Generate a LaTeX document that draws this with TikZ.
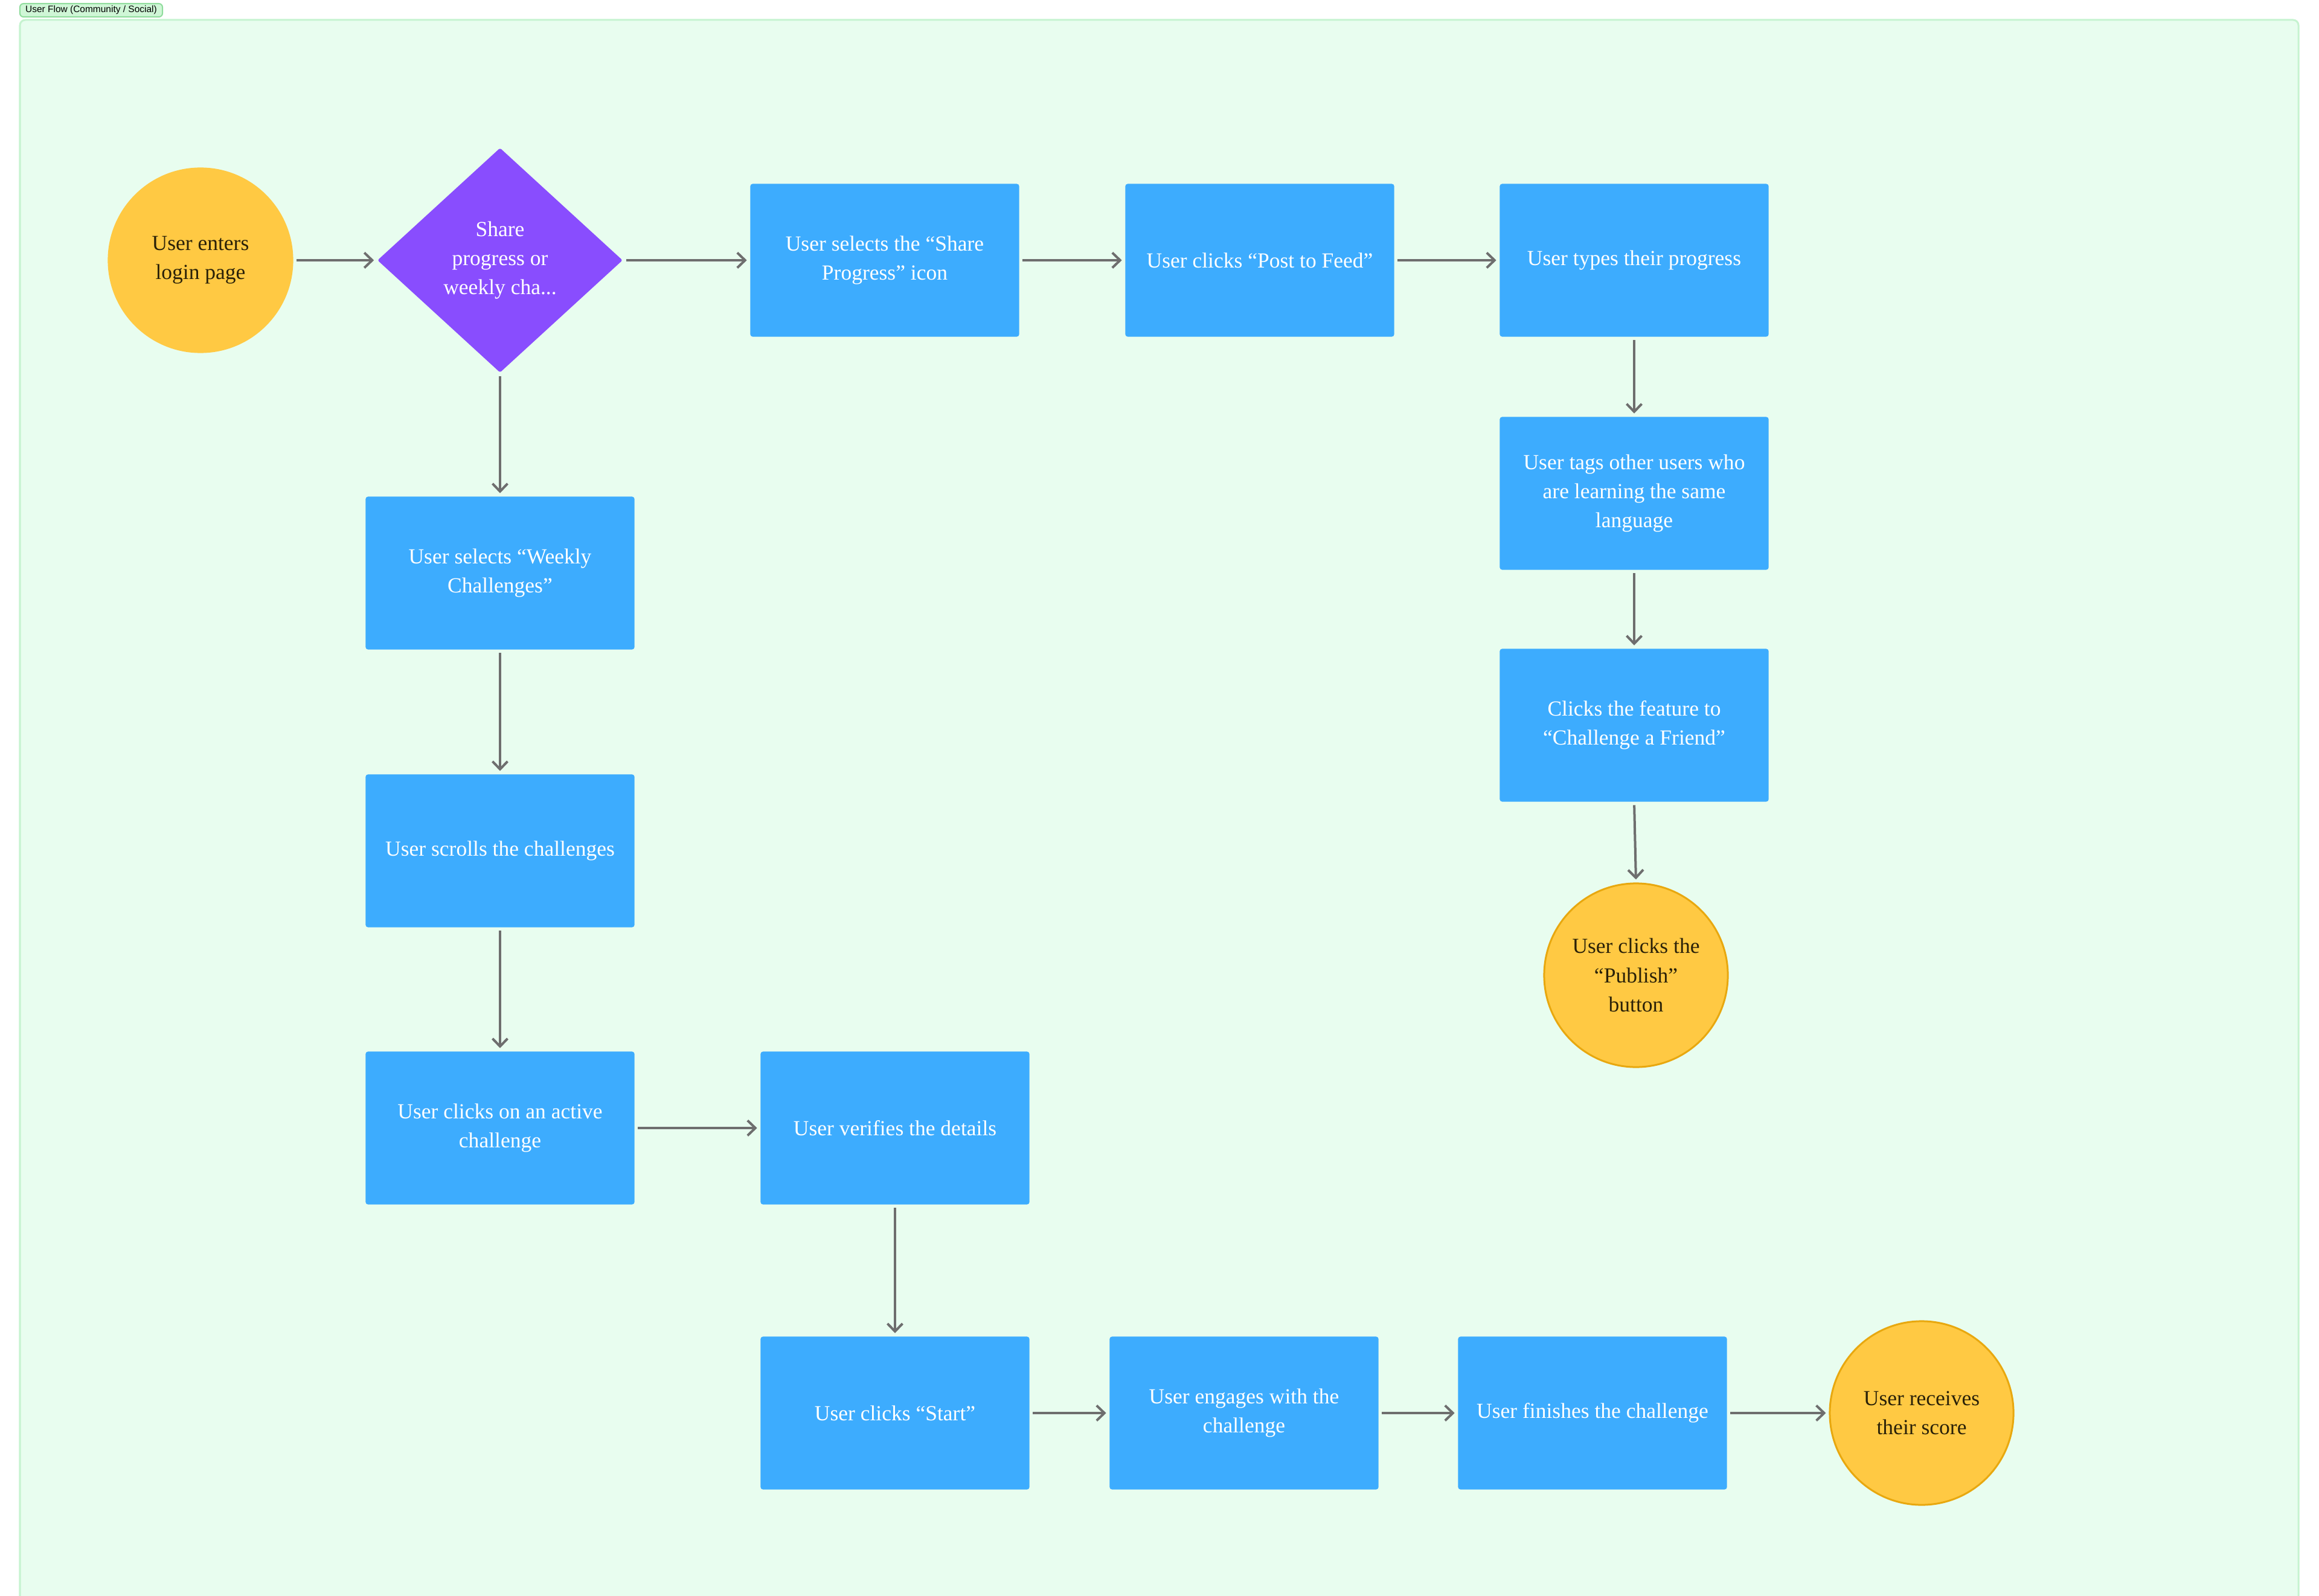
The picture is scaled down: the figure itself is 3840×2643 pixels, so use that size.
\documentclass[tikz,border=0pt]{standalone}
\usepackage{fontspec}
\setmainfont{Liberation Serif}
\setsansfont{Liberation Sans}
\usetikzlibrary{shapes.geometric,arrows.meta}
\definecolor{bgmint}{HTML}{E8FDEF}
\definecolor{frameline}{HTML}{C6F3D0}
\definecolor{labelfill}{HTML}{CFF6D6}
\definecolor{labelline}{HTML}{8FDC9C}
\definecolor{boxblue}{HTML}{3DACFE}
\definecolor{diampurple}{HTML}{894DFE}
\definecolor{sunyellow}{HTML}{FFC943}
\definecolor{sunborder}{HTML}{E8A80F}
\definecolor{darktext}{HTML}{2A2108}
\definecolor{arrowgray}{HTML}{6E6E6E}
\tikzset{
  stepbox/.style={rectangle, fill=boxblue, minimum width=4.45cm, minimum height=2.53cm,
    rounded corners=0.04cm, text=white, align=center, inner sep=0pt,
    font=\fontsize{10.1}{13.7}\selectfont},
  endcirc/.style={circle, fill=sunyellow, draw=sunborder, line width=0.03cm,
    minimum size=3.04cm, inner sep=0pt, text=darktext, align=center,
    font=\fontsize{10.1}{13.7}\selectfont},
  startcirc/.style={endcirc, draw=sunyellow},
  decision/.style={diamond, fill=diampurple, minimum width=4.06cm, minimum height=3.72cm,
    inner sep=0pt, text=white, align=center, rounded corners=0.03cm,
    font=\fontsize{10.1}{13.7}\selectfont},
  flow/.style={draw=arrowgray, line width=0.04cm,
    -{Straight Barb[length=0.13cm,width=0.25cm,line width=0.04cm]},
    shorten >=0.05cm, shorten <=0.05cm},
}
\begin{document}
\begin{tikzpicture}[x=0.01cm,y=-0.01cm]
\useasboundingbox (0,0) rectangle (3840,2643);
\clip (0,0) rectangle (3840,2643);
\fill[white] (0,0) rectangle (3840,2643);
% frame
\draw[fill=bgmint, draw=frameline, line width=0.03cm, rounded corners=0.09cm]
  (33,33) rectangle (3806,2720);
% label
\node[draw=labelline, fill=labelfill, line width=0.02cm, rounded corners=0.06cm,
  minimum width=2.36cm, minimum height=0.22cm, inner sep=0pt,
  font=\sffamily\fontsize{4.4}{5}\selectfont, text=black] (title) at (151,17)
  {User Flow (Community / Social)};
% nodes
\node[startcirc] (start) at (332,431) {User enters\\login page};
\node[decision] (dec) at (828,431) {Share\\progress or\\weekly cha...};
\node[stepbox] (share) at (1465,431) {User selects the “Share\\Progress” icon};
\node[stepbox] (post) at (2086,431) {User clicks “Post to Feed”};
\node[stepbox] (types) at (2706,431) {User types their progress};
\node[stepbox] (tags) at (2706,817) {User tags other users who\\are learning the same\\language};
\node[stepbox] (chal) at (2706,1201) {Clicks the feature to\\“Challenge a Friend”};
\node[endcirc] (publish) at (2709,1615) {User clicks the\\“Publish”\\button};
\node[stepbox] (weekly) at (828,949) {User selects “Weekly\\Challenges”};
\node[stepbox] (scroll) at (828,1409) {User scrolls the challenges};
\node[stepbox] (active) at (828,1868) {User clicks on an active\\challenge};
\node[stepbox] (verify) at (1482,1868) {User verifies the details};
\node[stepbox] (startbtn) at (1482,2340) {User clicks “Start”};
\node[stepbox] (engage) at (2060,2340) {User engages with the\\challenge};
\node[stepbox] (finish) at (2637,2340) {User finishes the challenge};
\node[endcirc] (score) at (3182,2340) {User receives\\their score};
% connectors
\draw[flow] (start) -- (dec);
\draw[flow] (dec) -- (share);
\draw[flow] (share) -- (post);
\draw[flow] (post) -- (types);
\draw[flow] (types) -- (tags);
\draw[flow] (tags) -- (chal);
\draw[flow] (chal.south) -- (publish.north);
\draw[flow] (dec) -- (weekly);
\draw[flow] (weekly) -- (scroll);
\draw[flow] (scroll) -- (active);
\draw[flow] (active) -- (verify);
\draw[flow] (verify) -- (startbtn);
\draw[flow] (startbtn) -- (engage);
\draw[flow] (engage) -- (finish);
\draw[flow] (finish) -- (score);
\end{tikzpicture}
\end{document}
